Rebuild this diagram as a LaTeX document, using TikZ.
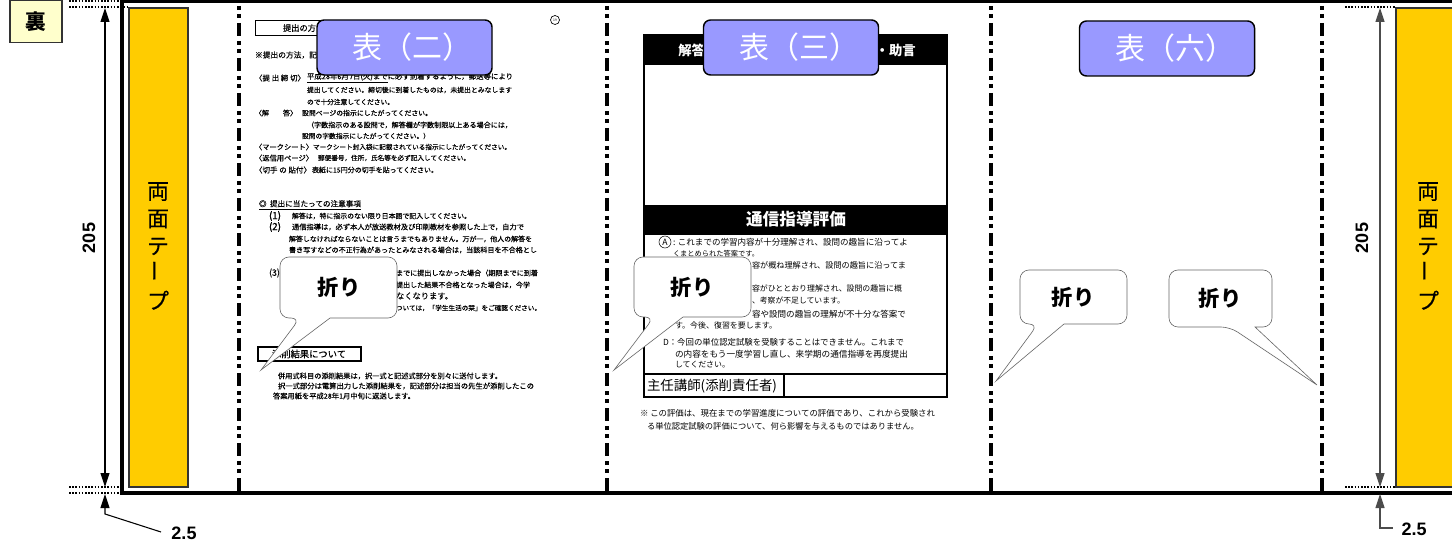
\documentclass[tikz,border=0pt]{standalone}
\usepackage{fontspec}
\usepackage{graphicx}
\setmainfont{Noto Sans CJK JP}
\newfontfamily\latinb[Scale=1]{Liberation Sans}
\newfontfamily\fkb[FakeBold=0.25]{Noto Sans CJK JP}
\usetikzlibrary{arrows.meta}
\newlength\tpx \tpx=0.75pt
\newcounter{tlc}
% x y width text: one line of small text fitted to its measured width
\newcommand{\tl}[4]{\stepcounter{tlc}\node[tline] (t\arabic{tlc}) at (#1,#2) {\resizebox{#3\tpx}{!}{#4}};}
% same, in the heavier weight of the left page
\newcommand{\tlb}[4]{\stepcounter{tlc}\node[tline] (t\arabic{tlc}) at (#1,#2) {\resizebox{#3\tpx}{!}{\fkb #4}};}
% name x1 y1 x2 y2 base1 base2 tipx tipy
\newcommand{\foldnote}[9]{%
  \coordinate (#1tip) at (#8,#9);
  \draw[noteline] [rounded corners=9\tpx] (#7,#5) -- (#4,#5) -- (#4,#3) -- (#2,#3) -- (#2,#5) -- (#6,#5) [sharp corners] -- (#1tip) -- cycle;}
\tikzset{
  tline/.style={anchor=west,inner sep=0pt,outer sep=0pt,font=\fontsize{6}{7}\selectfont},
  noteline/.style={draw=black!60,line width=0.45pt,fill=white},
  foldtext/.style={inner sep=0pt,font=\fontsize{16}{18}\selectfont\bfseries},
  bluebox/.style={draw=black,line width=1.1pt,fill=blueface,rounded corners=7\tpx,text=white,minimum width=175\tpx,minimum height=55\tpx,inner sep=0pt,font=\fontsize{22.5}{26}\selectfont},
  tape/.style={draw=black!80,line width=1.1pt,fill=tapeface},
  foldline/.style={line width=2.4pt,dash pattern=on 13\tpx off 5\tpx on 4\tpx off 4\tpx on 4\tpx off 5\tpx,dash phase=12\tpx},
  dots/.style={line width=0.9pt,dash pattern=on 1.6\tpx off 1.6\tpx},
  dimline/.style={line width=0.8pt,{Triangle[length=10.5pt,width=6.75pt]}-{Triangle[length=10.5pt,width=6.75pt]}},
  dimone/.style={line width=0.8pt,{Triangle[length=10.5pt,width=6.75pt]}-},
  dimnum/.style={inner sep=0pt,font=\latinb\bfseries\fontsize{13.5}{16}\selectfont},
  tapetext/.style={align=center,inner sep=0pt,font=\fkb\fontsize{16.5}{20.6}\selectfont},
  barhead/.style={inner sep=0pt,text=white,font=\bfseries\fontsize{12.5}{15}\selectfont},
  barsmall/.style={inner sep=0pt,text=white,font=\bfseries\fontsize{10}{12}\selectfont},
  tagbox/.style={draw=black!80,line width=1.1pt,fill=tagface,minimum width=52\tpx,minimum height=42\tpx,inner sep=0pt,font=\bfseries\fontsize{15.5}{18}\selectfont},
  framebox/.style={draw=black,line width=1pt},
}
\definecolor{blueface}{HTML}{9999FF}
\definecolor{tapeface}{HTML}{FFCC00}
\definecolor{tagface}{HTML}{FFFFCC}
\begin{document}
\begin{tikzpicture}[x=0.75pt,y=-0.75pt]
\useasboundingbox (0,0) rectangle (1452,541);
\fill[white] (0,0) rectangle (1452,541);
% tag
\node[tagbox] (tag) at (36,21.5) {裏};
% tapes
\draw[tape] (129,8) rectangle (188,487);
\draw[tape] (1396,8) rectangle (1470,487);
\node[tapetext] (tapeL) at (158,246) {両\\面\\テ\\\rotatebox{90}{ー}\\プ};
\node[tapetext] (tapeR) at (1428,246) {両\\面\\テ\\\rotatebox{90}{ー}\\プ};
% sheet outline
\draw[line width=2.3pt] (1460,1) -- (122,1) -- (122,493) -- (1460,493);
% fold lines
\coordinate (f1t) at (239,0); \coordinate (f1b) at (239,493);
\coordinate (f2t) at (607,0); \coordinate (f2b) at (607,493);
\coordinate (f3t) at (991,0); \coordinate (f3b) at (991,493);
\coordinate (f4t) at (1322,0); \coordinate (f4b) at (1322,493);
\draw[foldline] (f1t) -- (f1b);
\draw[foldline] (f2t) -- (f2b);
\draw[foldline] (f3t) -- (f3b);
\draw[foldline] (f4t) -- (f4b);
% dimension, left
\draw[dots] (69,1) -- (120,1);
\draw[dots] (69,7) -- (128,7);
\draw[dots] (69,487) -- (120,487);
\draw[dots] (69,493) -- (120,493);
\coordinate (dLt) at (105,8); \coordinate (dLb) at (105,487);
\draw[dimline] (dLt) -- (dLb);
\node[dimnum,rotate=90] (n205L) at (89,238) {205};
\coordinate (dLs) at (105,494); \coordinate (dLk) at (105,514); \coordinate (dLe) at (161,532);
\draw[dimone] (dLs) -- (dLk) -- (dLe);
\node[dimnum] (n25L) at (184,533) {2.5};
% dimension, right
\draw[dots] (1345,7) -- (1396,7);
\draw[dots] (1345,487) -- (1396,487);
\coordinate (dRt) at (1380,8); \coordinate (dRb) at (1380,487);
\draw[dimline,black!70] (dRt) -- (dRb);
\node[dimnum,rotate=90] (n205R) at (1362,238) {205};
\coordinate (dRs) at (1380,494); \coordinate (dRk) at (1380,528); \coordinate (dRe) at (1393,528);
\draw[dimone,black!70] (dRs) -- (dRk) -- (dRe);
\node[dimnum] (n25R) at (1414,529) {2.5};
% left page
\draw[framebox,line width=0.7pt] (255,20) rectangle (400,35);
\tlb{283}{28}{33}{提出の方}
\draw[line width=0.5pt] (555,20) circle (4.5);
\node[inner sep=0pt,font=\fontsize{2.5}{3}\selectfont] (pageno) at (555,20.5) {19};
\tlb{255}{55}{62}{※提出の方法，記}
\tlb{255}{78}{50}{〈提 出 締 切〉}
\tlb{307}{78}{206}{\underline{平成28年6月7日(火)まで}に必ず到着するように，郵送等により}
\tlb{307}{90}{205}{提出してください。締切後に到着したものは，未提出とみなします}
\tlb{307}{102}{87}{ので十分注意してください。}
\tlb{255}{113}{42}{〈解\quad\quad 答〉}
\tlb{302}{113}{130}{設問ページの指示にしたがってください。}
\tlb{307}{125}{205}{（字数指示のある設問で，解答欄が字数制限以上ある場合には，}
\tlb{302}{136}{128}{設問の字数指示にしたがってください。）}
\tlb{255}{147}{58}{〈マークシート〉}
\tlb{313}{147}{198}{マークシート封入袋に記載されている指示にしたがってください。}
\tlb{255}{158}{58}{〈返信用ページ〉}
\tlb{318}{158}{152}{郵便番号，住所，氏名等を必ず記入してください。}
\tlb{255}{170}{56}{〈切手 の 貼付〉}
\tlb{312}{170}{126}{表紙に15円分の切手を貼ってください。}
\tlb{259}{205}{102}{\underline{◎\ \ 提出に当たっての注意事項}}
\tlb{269}{216}{12}{(1)}
\tlb{292}{216}{179}{解答は，特に指示のない限り日本語で記入してください。}
\tlb{269}{227}{12}{(2)}
\tlb{292}{227}{232}{通信指導は，必ず本人が放送教材及び印刷教材を参照した上で，自力で}
\tlb{289}{239}{243}{解答しなければならないことは言うまでもありません。万が一，他人の解答を}
\tlb{289}{250}{248}{書き写すなどの不正行為があったとみなされる場合は，当該科目を不合格とし}
\tlb{269}{273}{11}{(3)}
\tlb{396}{273}{142}{までに提出しなかった場合（期限までに到着}
\tlb{396}{285}{134}{提出した結果不合格となった場合は，今学}
\tlb{396}{296}{57}{なくなります。}
\tlb{396}{308}{145}{ついては，「学生生活の栞」をご確認ください。}
\draw[framebox] (258,347) rectangle (361,361);
\tlb{272}{354}{74}{添削結果について}
\tlb{278}{376}{224}{併用式科目の添削結果は，択一式と記述式部分を別々に送付します。}
\tlb{278}{386}{256}{択一式部分は電算出力した添削結果を，記述部分は担当の先生が添削したこの}
\tlb{273}{396}{142}{答案用紙を平成28年1月中旬に返送します。}
% form
\draw[framebox] (644,35) rectangle (947,397);
\fill (644,35) rectangle (947,65);
\fill (644,205) rectangle (947,235);
\node[barsmall,anchor=west] (hd1) at (678,50) {解答};
\node[barsmall,anchor=east] (hd2) at (916,50) {・助言};
\node[barhead] (hd3) at (796,219) {通信指導評価};
\draw[framebox] (644,374) -- (947,374);
\draw[framebox] (784,374) -- (784,397);
\tl{647}{386}{130}{\fontsize{9.5}{11}\selectfont 主任講師(添削責任者)}
\draw[line width=0.4pt] (665,242) circle (6);
\node[inner sep=0pt,font=\fontsize{6.5}{7}\selectfont] (gradeA) at (665,242) {A};
\tl{673}{242}{235}{: これまでの学習内容が十分理解され、設問の趣旨に沿ってよ}
\tl{673}{254}{86}{くまとめられた答案です。}
\tl{752}{265}{154}{容が概ね理解され、設問の趣旨に沿ってま}
\tl{752}{288}{150}{容がひととおり理解され、設問の趣旨に概}
\tl{752}{301}{93}{、考察が不足しています。}
\tl{752}{314}{154}{容や設問の趣旨の理解が不十分な答案で}
\tl{675}{325}{102}{す。今後、復習を要します。}
\tl{663}{342}{241}{D：今回の単位認定試験を受験することはできません。これまで}
\tl{675}{354}{233}{の内容をもう一度学習し直し、来学期の通信指導を再度提出}
\tl{675}{365}{55}{してください。}
\tl{640}{413}{295}{※ この評価は、現在までの学習進度についての評価であり、これから受験され}
\tl{647}{426}{272}{る単位認定試験の評価について、何ら影響を与えるものではありません。}
% fold callouts
\foldnote{c1}{280}{257}{397}{318}{300}{330}{261}{370}
\node[foldtext] (c1text) at (339,287) {折り};
\foldnote{c2}{634}{257}{751}{317}{654}{683}{614}{370}
\node[foldtext] (c2text) at (692,287) {折り};
\foldnote{c3}{1020}{270}{1127}{324}{1038}{1064}{996}{381}
\node[foldtext] (c3text) at (1073,297) {折り};
\foldnote{c4}{1169}{270}{1272}{327}{1230}{1255}{1317}{385}
\node[foldtext] (c4text) at (1220,298) {折り};
% blue labels
\node[bluebox] (b2) at (404.5,47.5) {\hspace{12pt}表（二）};
\node[bluebox] (b3) at (791,47.5) {\hspace{12pt}表（三）};
\node[bluebox] (b6) at (1167,48.5) {\hspace{12pt}表（六）};
\end{tikzpicture}
\end{document}
